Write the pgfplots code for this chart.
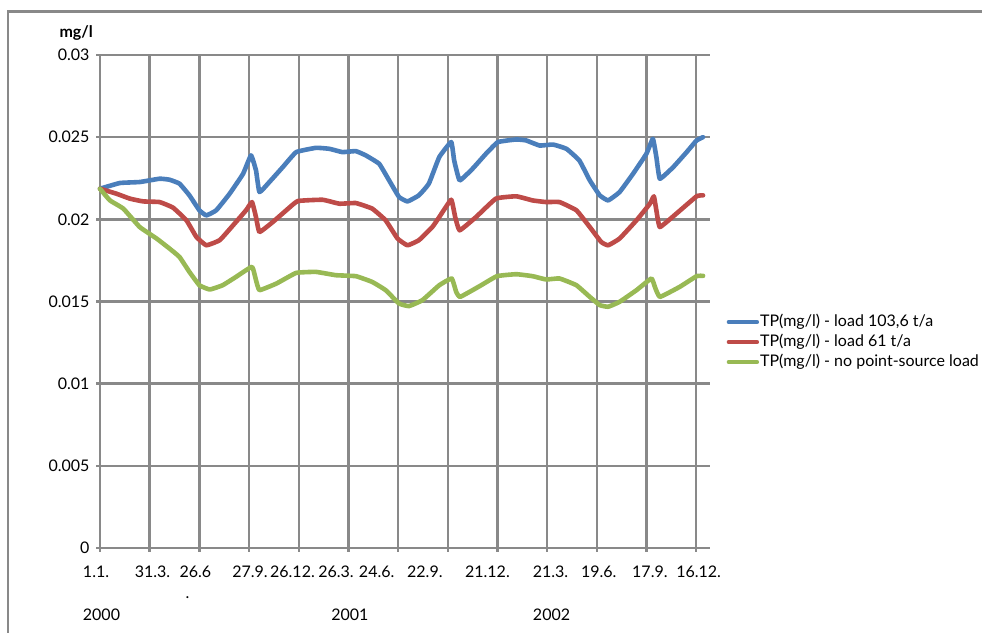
\documentclass[border=0pt]{standalone}
\usepackage{pgfplots}
\pgfplotsset{compat=1.18}
\usepackage{fontspec}
\setmainfont{Lato}

\definecolor{gridgray}{HTML}{898989}
\definecolor{tpblue}{HTML}{4A7EBB}
\definecolor{tpred}{HTML}{BE4B48}
\definecolor{tpgreen}{HTML}{98B954}

\newcommand\chartfont{\fontsize{16bp}{19bp}\selectfont}
\tikzset{
  date label/.style={anchor=base, yshift=-30bp, font=\chartfont},
  year label/.style={anchor=base, yshift=-73bp, font=\chartfont},
}

\begin{document}
\chartfont
\begin{tikzpicture}[x=1bp,y=1bp]
\useasboundingbox (0,0) rectangle (982,633);
% outer chart frame
\draw[gridgray, line width=2.6bp] (8,-10) -- (8,621.5) -- (995,621.5);
\begin{axis}[
  at={(100bp,85bp)}, anchor=south west,
  scale only axis, width=610bp, height=493bp,
  xmin=0, xmax=12.28, ymin=0, ymax=0.03,
  xtick={0,1,...,12}, xticklabel={\relax},
  ytick={0,0.005,0.01,0.015,0.02,0.025,0.03},
  yticklabels={0,0.005,0.01,0.015,0.02,0.025,0.03},
  scaled y ticks=false,
  /pgf/number format/assume math mode=true,
  grid=major,
  major grid style={gridgray, line width=2.4bp},
  axis line style={gridgray, line width=2.4bp},
  axis x line*=bottom, axis y line*=left,
  tick style={gridgray, line width=2.4bp},
  tick align=outside, major tick length=4bp,
  yticklabel style={font=\chartfont, anchor=east, xshift=-1bp},
  clip=false,
  legend style={draw=none, fill=none, at={(1.027,0.479)}, anchor=north west,
    font=\chartfont, row sep=0pt, inner sep=0pt, cells={anchor=west},
    nodes={inner xsep=1bp, inner ysep=2bp, text height=12bp, text depth=4bp}},
  legend cell align=left,
  legend image code/.code={\draw[#1, line width=4.4bp] (0bp,0bp) -- (28bp,0bp);},
  every axis plot/.append style={line width=4.6bp, line join=round, line cap=round,
    smooth, tension=0.2},
]
\addplot[tpblue] coordinates {
(0,0.02186) (0.4,0.02221) (0.8,0.02227) (1.2,0.02247) (1.4,0.02241) (1.6,0.02217)
(1.8,0.02146) (2.0,0.02055) (2.14,0.02024) (2.34,0.02055) (2.61,0.02156) (2.88,0.02277)
(3.04,0.02389) (3.14,0.02298) (3.21,0.02166) (3.41,0.02227) (3.68,0.02318) (3.95,0.02409)
(4.35,0.02435) (4.62,0.02429) (4.88,0.02409) (5.15,0.02415) (5.35,0.02389) (5.62,0.02338)
(5.82,0.02237) (6.02,0.02136) (6.19,0.02109) (6.42,0.02146) (6.62,0.02217) (6.83,0.02379)
(7.07,0.0247) (7.13,0.02358) (7.24,0.02237) (7.50,0.02308) (7.77,0.02399) (8.01,0.0247)
(8.38,0.02486) (8.58,0.0248) (8.85,0.02449) (9.12,0.02455) (9.39,0.02429) (9.65,0.02358)
(9.86,0.02237) (10.06,0.02146) (10.23,0.02115) (10.46,0.02166) (10.73,0.02277) (11.0,0.02399)
(11.13,0.0249) (11.20,0.02379) (11.27,0.02247) (11.54,0.02318) (11.81,0.02409) (12.01,0.0248)
(12.14,0.025)
};
\addlegendentry{TP(mg/l) - load 103,6 t/a}
\addplot[tpred] coordinates {
(0,0.02186) (0.33,0.02156) (0.6,0.02126) (0.87,0.02109) (1.2,0.02105) (1.47,0.02071)
(1.74,0.01994) (1.94,0.01893) (2.14,0.01842) (2.41,0.01873) (2.68,0.01964) (2.94,0.02055)
(3.06,0.02105) (3.14,0.02014) (3.21,0.01923) (3.48,0.01984) (3.75,0.02055) (3.98,0.02111)
(4.48,0.02119) (4.82,0.02095) (5.15,0.02099) (5.48,0.02065) (5.75,0.01994) (5.99,0.01883)
(6.19,0.01842) (6.42,0.01873) (6.69,0.01953) (6.83,0.02014) (7.07,0.02119) (7.15,0.02014)
(7.24,0.01933) (7.57,0.02014) (7.97,0.02126) (8.38,0.0214) (8.71,0.02115) (8.98,0.02105)
(9.25,0.02105) (9.59,0.02055) (9.86,0.01953) (10.09,0.01862) (10.23,0.01842) (10.46,0.01883)
(10.80,0.01994) (11.07,0.02095) (11.15,0.0214) (11.20,0.02055) (11.27,0.01953) (11.60,0.02034)
(12.01,0.0214) (12.14,0.02146)
};
\addlegendentry{TP(mg/l) - load 61 t/a}
\addplot[tpgreen] coordinates {
(0,0.02186) (0.2,0.02115) (0.47,0.02065) (0.8,0.01953) (1.14,0.01883) (1.40,0.01822)
(1.6,0.01771) (1.8,0.0168) (2.0,0.01599) (2.21,0.01573) (2.47,0.01599) (2.74,0.0165)
(3.06,0.01711) (3.14,0.0163) (3.21,0.01569) (3.55,0.01609) (3.95,0.01674) (4.35,0.0168)
(4.75,0.0166) (5.15,0.01654) (5.48,0.01619) (5.75,0.01569) (6.02,0.01488) (6.22,0.01472)
(6.49,0.01508) (6.83,0.01599) (7.08,0.0164) (7.17,0.01559) (7.25,0.01528) (7.64,0.01593)
(7.99,0.01654) (8.38,0.01666) (8.71,0.01654) (8.98,0.01634) (9.25,0.0164) (9.59,0.01599)
(9.86,0.01528) (10.06,0.01478) (10.23,0.01468) (10.46,0.01498) (10.80,0.01569) (11.10,0.0164)
(11.17,0.01589) (11.27,0.01528) (11.67,0.01589) (12.01,0.01654) (12.14,0.01656)
};
\addlegendentry{TP(mg/l) - no point-source load}

% axis unit label
\node[anchor=base west, font=\chartfont\bfseries] at (axis cs:0,0.03) [xshift=-46bp, yshift=17bp] {mg/l};

% date labels of the category axis
\node[date label] at (axis cs:-0.08,0) {1.1.};
\node[date label] at (axis cs:1.057,0) {31.3.};
\node[date label] at (axis cs:1.92,0) {26.6};
\node[date label] at (axis cs:3.02,0) {27.9.};
\node[date label] at (axis cs:3.875,0) {26.12.};
\node[date label] at (axis cs:4.75,0) {26.3.};
\node[date label] at (axis cs:5.57,0) {24.6.};
\node[date label] at (axis cs:6.54,0) {22.9.};
\node[date label] at (axis cs:7.80,0) {21.12.};
\node[date label] at (axis cs:9.07,0) {21.3.};
\node[date label] at (axis cs:10.04,0) {19.6.};
\node[date label] at (axis cs:11.07,0) {17.9.};
\node[date label] at (axis cs:12.05,0) {16.12.};
\node[anchor=base west, yshift=-51bp, font=\chartfont] at (axis cs:1.61,0) {.};
% year labels
\node[year label] at (axis cs:0.03,0) {2000};
\node[year label] at (axis cs:5.03,0) {2001};
\node[year label] at (axis cs:9.09,0) {2002};
\end{axis}
\end{tikzpicture}
\end{document}
